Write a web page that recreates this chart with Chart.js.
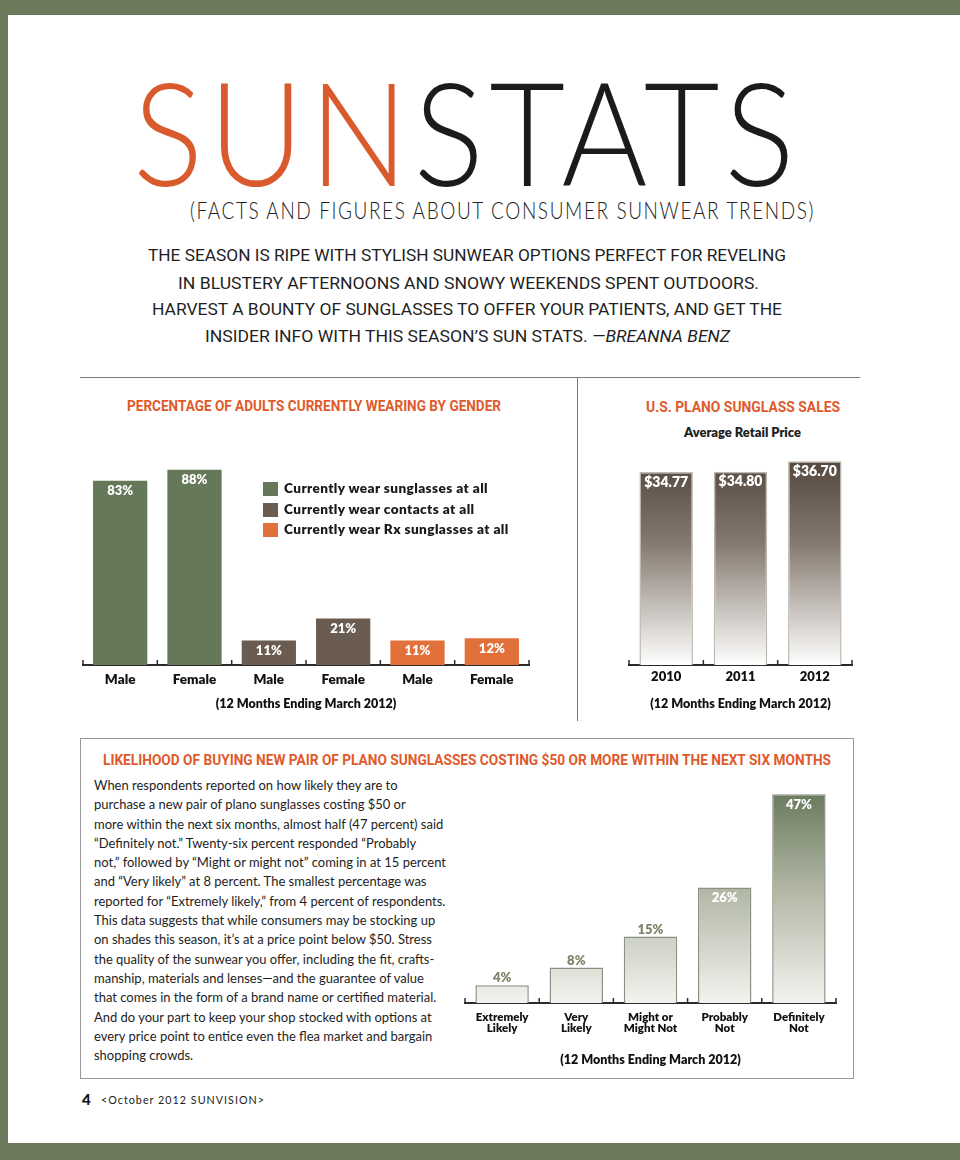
<!DOCTYPE html>
<html>
<head>
<meta charset="utf-8">
<script src="https://cdn.jsdelivr.net/npm/chart.js@4"></script>
<style>
html, body { margin: 0; overflow: hidden; background: #ffffff; }
#page { position: relative; width: 960px; height: 1160px; overflow: hidden; background: #ffffff; }
.band { position: absolute; background: #6b7a5b; }
.t { position: absolute; white-space: nowrap; transform-origin: left center; display: inline-block; }
.ctitle { font-family: Roboto, sans-serif; font-weight: 700; font-size: 14px; line-height: 14px; color: #e05a2b; }
.intro { font-family: Roboto, sans-serif; font-size: 17px; line-height: 17px; color: #1f1f1f; }
.wrap { position: absolute; }
.rule { position: absolute; background: #7a7a7a; }
#legend1 .row { position: absolute; left: 0; white-space: nowrap; font-family: Lato, sans-serif; font-weight: 800; font-size: 13.6px; letter-spacing: 0.4px; color: #1a1a1a; }
#legend1 .sw { display: inline-block; width: 15px; height: 14px; vertical-align: middle; margin-right: 6px; }
#body { font-family: Lato, sans-serif; font-size: 13px; line-height: 19.3px; color: #1e1e1e; transform-origin: left top; }
</style>
</head>
<body>
<div id="page">
  <div class="band" style="left:0;top:0;width:100%;height:15px;"></div>
  <div class="band" style="left:0;top:0;width:8px;height:100%;"></div>
  <div class="band" style="left:0;top:1143px;width:100%;height:17px;"></div>

  <div class="t" data-w="667" style="left:133px;top:59px;font-family:Lato,sans-serif;font-weight:300;font-size:144px;line-height:144px;color:#1b1b1b;letter-spacing:6px;"><span style="color:#d95a2c">SUN</span>STATS</div>
  <div class="t" data-w="625" style="left:190px;top:198px;font-family:Lato,sans-serif;font-weight:300;font-size:24px;line-height:24px;color:#222;letter-spacing:2px;">(FACTS AND FIGURES ABOUT CONSUMER SUNWEAR TRENDS)</div>

  <div class="t intro" data-w="638" style="left:148px;top:247px;">THE SEASON IS RIPE WITH STYLISH SUNWEAR OPTIONS PERFECT FOR REVELING</div>
  <div class="t intro" data-w="581" style="left:178px;top:275px;">IN BLUSTERY AFTERNOONS AND SNOWY WEEKENDS SPENT OUTDOORS.</div>
  <div class="t intro" data-w="630" style="left:152px;top:301px;">HARVEST A BOUNTY OF SUNGLASSES TO OFFER YOUR PATIENTS, AND GET THE</div>
  <div class="t intro" data-w="525" style="left:205px;top:328px;">INSIDER INFO WITH THIS SEASON’S SUN STATS. <i>—BREANNA BENZ</i></div>

  <div class="rule" style="left:80px;top:377px;width:780px;height:1px;"></div>
  <div class="rule" style="left:577px;top:377px;width:1px;height:344px;"></div>

  <div class="t ctitle" data-w="374" style="left:127px;top:399px;">PERCENTAGE OF ADULTS CURRENTLY WEARING BY GENDER</div>
  <div class="t ctitle" data-w="194" style="left:646px;top:400px;">U.S. PLANO SUNGLASS SALES</div>
  <div class="t" data-w="117" style="left:684px;top:426px;font-family:Lato,sans-serif;font-weight:800;font-size:12.5px;line-height:14px;color:#1e1e1e;">Average Retail Price</div>

  <div class="wrap" style="left:82px;top:443px;width:448px;height:272px;"><canvas id="gender" width="448" height="272"></canvas></div>
  <div id="legend1" class="wrap" style="left:263px;top:480px;width:260px;height:60px;"></div>

  <div class="wrap" style="left:628px;top:443px;width:225px;height:272px;"><canvas id="price" width="225" height="272"></canvas></div>

  <div style="position:absolute;left:80px;top:738px;width:772px;height:339px;border:1.5px solid #9a9a9a;"></div>
  <div class="t ctitle" data-w="728" style="left:103px;top:753px;">LIKELIHOOD OF BUYING NEW PAIR OF PLANO SUNGLASSES COSTING $50 OR MORE WITHIN THE NEXT SIX MONTHS</div>

  <div id="body" class="t" data-w="352" style="left:94px;top:776px;">When respondents reported on how likely they are to<br>purchase a new pair of plano sunglasses costing $50 or<br>more within the next six months, almost half (47 percent) said<br>“Definitely not.” Twenty-six percent responded “Probably<br>not,” followed by “Might or might not” coming in at 15 percent<br>and “Very likely” at 8 percent. The smallest percentage was<br>reported for “Extremely likely,” from 4 percent of respondents.<br>This data suggests that while consumers may be stocking up<br>on shades this season, it’s at a price point below $50. Stress<br>the quality of the sunwear you offer, including the fit, crafts-<br>manship, materials and lenses—and the guarantee of value<br>that comes in the form of a brand name or certified material.<br>And do your part to keep your shop stocked with options at<br>every price point to entice even the flea market and bargain<br>shopping crowds.</div>

  <div class="wrap" style="left:464px;top:781px;width:373px;height:286px;"><canvas id="likely" width="373" height="286"></canvas></div>

  <div class="t" style="left:82px;top:1091px;font-family:Lato,sans-serif;font-weight:900;font-size:15px;line-height:16px;color:#111;">4</div>
  <div class="t" data-w="164" style="left:101px;top:1093px;font-family:Lato,sans-serif;font-size:10.5px;line-height:14px;color:#222;letter-spacing:1px;">&lt;October 2012 SUNVISION&gt;</div>
</div>

<script>
// ---- data ----
const genderLabels = ['Male', 'Female', 'Male', 'Female', 'Male', 'Female'];
const seriesNames = ['Currently wear sunglasses at all', 'Currently wear contacts at all', 'Currently wear Rx sunglasses at all'];
const sunglassesPct = [83, 88, null, null, null, null];
const contactsPct = [null, null, 11, 21, null, null];
const rxSunglassesPct = [null, null, null, null, 11, 12];

const years = ['2010', '2011', '2012'];
const avgRetailPrice = [34.77, 34.80, 36.70];

const likelihoodLabels = [['Extremely', 'Likely'], ['Very', 'Likely'], ['Might or', 'Might Not'], ['Probably', 'Not'], ['Definitely', 'Not']];
const likelihoodPct = [4, 8, 15, 26, 47];

const caption = '(12 Months Ending March 2012)';

// ---- text fitting (layout only) ----
document.querySelectorAll('[data-w]').forEach(el => {
  const w = el.getBoundingClientRect().width;
  el.style.transform = 'scaleX(' + (parseFloat(el.dataset.w) / w) + ')';
});

Chart.defaults.font.family = 'Lato, sans-serif';
Chart.defaults.color = '#1a1a1a';

// little upward ticks at category boundaries on the x axis
const edgeTicks = {
  id: 'edgeTicks',
  afterDatasetsDraw(chart) {
    const x = chart.scales.x, area = chart.chartArea, ctx = chart.ctx;
    const step = x.getPixelForValue(1) - x.getPixelForValue(0);
    const first = x.getPixelForValue(0) - step / 2;
    ctx.save();
    ctx.strokeStyle = '#2b2b2b';
    ctx.lineWidth = 1.5;
    for (let i = 0; i <= chart.data.labels.length; i++) {
      const px = first + i * step;
      ctx.beginPath();
      ctx.moveTo(px, area.bottom);
      ctx.lineTo(px, area.bottom - 5);
      ctx.stroke();
    }
    ctx.restore();
  }
};

// value text on the bars
const valueLabels = {
  id: 'valueLabels',
  afterDatasetsDraw(chart, args, opts) {
    const ctx = chart.ctx;
    ctx.save();
    ctx.font = '800 ' + (opts.size || 13) + 'px Lato, sans-serif';
    ctx.textAlign = 'center';
    ctx.textBaseline = 'middle';
    chart.data.datasets.forEach((ds, di) => {
      chart.getDatasetMeta(di).data.forEach((bar, i) => {
        const v = ds.data[i];
        if (v == null) return;
        const inside = v >= (opts.insideFrom || 0);
        const txt = (opts.prefix || '') + v.toFixed(opts.decimals || 0) + (opts.suffix || '');
        ctx.fillStyle = inside ? '#ffffff' : opts.outsideColor;
        ctx.fillText(txt, bar.x, inside ? bar.y + 10 : bar.y - 7);
      });
    });
    ctx.restore();
  }
};

Chart.register(edgeTicks, valueLabels);

function vertGradient(stops) {
  return (c) => {
    const area = c.chart.chartArea;
    if (!area) return stops[0][1];
    const g = c.chart.ctx.createLinearGradient(0, area.top, 0, area.bottom);
    stops.forEach(s => g.addColorStop(s[0], s[1]));
    return g;
  };
}

function xAxis(height, tickPad, tickSize, lineHeight, titlePad) {
  return {
    stacked: true,
    offset: true,
    grid: { display: false, drawTicks: false },
    border: { display: true, color: '#2b2b2b', width: 2 },
    ticks: { color: '#111', padding: tickPad, autoSkip: false, maxRotation: 0,
             font: { weight: 800, size: tickSize, lineHeight: lineHeight } },
    title: { display: true, text: caption, color: '#111',
             font: { weight: 800, size: 12.5, lineHeight: 1.2 }, padding: { top: 0, bottom: titlePad } },
    afterFit: (s) => { s.height = height; }
  };
}

// ---- chart 1: wearing by gender ----
const genderChart = new Chart(document.getElementById('gender'), {
  type: 'bar',
  data: {
    labels: genderLabels,
    datasets: [
      { label: seriesNames[0], data: sunglassesPct, backgroundColor: '#66785a' },
      { label: seriesNames[1], data: contactsPct, backgroundColor: '#6a5c51' },
      { label: seriesNames[2], data: rxSunglassesPct, backgroundColor: '#e2703a' }
    ]
  },
  options: {
    responsive: false,
    animation: false,
    layout: { padding: { left: 1, right: 1 } },
    datasets: { bar: { barPercentage: 0.73, categoryPercentage: 1 } },
    plugins: {
      legend: { display: false },
      tooltip: { enabled: false },
      valueLabels: { size: 13, suffix: '%' }
    },
    scales: {
      x: xAxis(50, 7, 13.5, 1.2, 4),
      y: { display: false, stacked: true, min: 0, max: 100 }
    }
  }
});

// legend built from the chart's datasets
const legendBox = document.getElementById('legend1');
genderChart.data.datasets.forEach((ds, i) => {
  const row = document.createElement('div');
  row.className = 'row';
  row.style.top = (i * 20.5) + 'px';
  row.innerHTML = '<span class="sw" style="background:' + ds.backgroundColor + '"></span>' + ds.label;
  legendBox.appendChild(row);
});

// ---- chart 2: average retail price ----
new Chart(document.getElementById('price'), {
  type: 'bar',
  data: {
    labels: years,
    datasets: [{
      label: 'Average Retail Price',
      data: avgRetailPrice,
      backgroundColor: vertGradient([[0, '#4a3d34'], [0.45, '#85796f'], [1, '#ffffff']]),
      borderColor: '#b9b9ad',
      borderWidth: 1.5
    }]
  },
  options: {
    responsive: false,
    animation: false,
    layout: { padding: { left: 1, right: 1 } },
    datasets: { bar: { barPercentage: 0.72, categoryPercentage: 1 } },
    plugins: {
      legend: { display: false },
      tooltip: { enabled: false },
      valueLabels: { size: 14, prefix: '$', decimals: 2 }
    },
    scales: {
      x: xAxis(50, 4, 13, 1.2, 4),
      y: { display: false, min: 0, max: 40 }
    }
  }
});

// ---- chart 3: likelihood of buying ----
new Chart(document.getElementById('likely'), {
  type: 'bar',
  data: {
    labels: likelihoodLabels,
    datasets: [{
      label: 'Likelihood',
      data: likelihoodPct,
      backgroundColor: vertGradient([[0, '#617355'], [0.5, '#b3b8a6'], [1, '#f3f3ef']]),
      borderColor: '#8b9182',
      borderWidth: 1.5
    }]
  },
  options: {
    responsive: false,
    animation: false,
    layout: { padding: { left: 1, right: 1 } },
    datasets: { bar: { barPercentage: 0.72, categoryPercentage: 1 } },
    plugins: {
      legend: { display: false },
      tooltip: { enabled: false },
      valueLabels: { size: 13, suffix: '%', insideFrom: 20, outsideColor: '#7a8468' }
    },
    scales: {
      x: xAxis(64, 9, 11.5, 0.92, 0),
      y: { display: false, min: 0, max: 50 }
    }
  }
});
</script>
</body>
</html>
